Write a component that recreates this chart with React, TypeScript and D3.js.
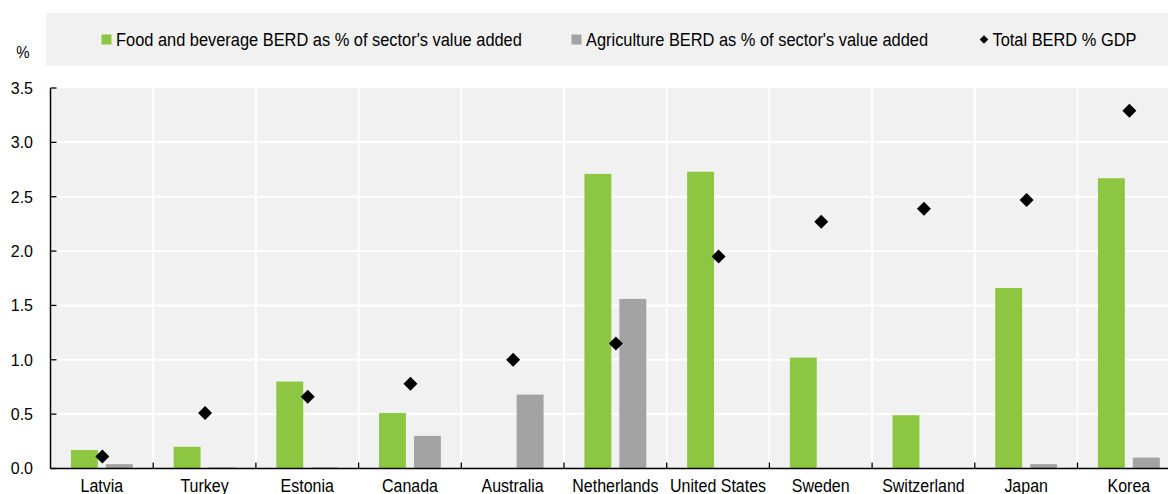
import React from 'react';
import * as d3 from 'd3';

const countries = ["Latvia", "Turkey", "Estonia", "Canada", "Australia", "Netherlands", "United States", "Sweden", "Switzerland", "Japan", "Korea"];
const foodBerd = [0.17, 0.20, 0.80, 0.51, 0, 2.71, 2.73, 1.02, 0.49, 1.66, 2.67];
const agriBerd = [0.04, 0.01, 0.01, 0.30, 0.68, 1.56, 0, 0, 0, 0.04, 0.10];
const totalBerd = [0.11, 0.51, 0.66, 0.78, 1.00, 1.15, 1.95, 2.27, 2.39, 2.47, 3.29];
const yTicks = [0, 0.5, 1, 1.5, 2, 2.5, 3, 3.5];
const seriesNames = ["Food and beverage BERD as % of sector's value added", "Agriculture BERD as % of sector's value added", "Total BERD % GDP"];
const barSeries = ["food", "agri"];

const W = 1168;
const H = 494;
const GREEN = "#8dc641";
const GRAY = "#a3a3a3";
const BG = "#f1f1f1";
const FONT = "'Liberation Sans', Arial, sans-serif";
const SY = 1.16;

export default function App() {
  const left = 50.5;
  const step = 102.7;
  const x0 = d3.scaleBand<string>().domain(countries).range([left, left + step * countries.length]).padding(0);
  const x1 = d3.scaleBand<string>().domain(barSeries).range([0, x0.bandwidth()]).paddingInner(0.23).paddingOuter(0.585);
  const y = d3.scaleLinear().domain([0, 3.5]).range([468.5, 88]);
  const diamond = d3.symbol().type(d3.symbolSquare).size(98)();
  const diamondLegend = d3.symbol().type(d3.symbolSquare).size(36)();
  const y0 = y(0);
  const yTop = y(3.5);

  const stretchedText = (x: number, yy: number, txt: string, anchor: string, key?: string | number, fs = 16) => (
    <text key={key} transform={`translate(${x},${yy}) scale(1,${SY})`} textAnchor={anchor} fontSize={fs} fontFamily={FONT} fill="#000">{txt}</text>
  );

  return (
    <svg width={W} height={H} style={{ position: 'absolute', left: 0, top: 0, background: '#fff' }}>
      {/* legend */}
      <rect x={46} y={13} width={W - 46} height={52.5} fill={BG} />
      <rect x={101.5} y={34.5} width={10} height={10} fill={GREEN} />
      {stretchedText(116, 46, seriesNames[0], 'start', 'l0', 16.4)}
      <rect x={571.5} y={34.5} width={10} height={10} fill={GRAY} />
      {stretchedText(586, 46, seriesNames[1], 'start', 'l1', 16.4)}
      <path d={diamondLegend} transform={`translate(984,39.5) rotate(45)`} fill="#000" />
      {stretchedText(992.5, 46, seriesNames[2], 'start', 'l2', 16.4)}

      {/* unit */}
      <text transform={`translate(23,58) scale(1,${SY})`} textAnchor="middle" fontSize={15} fontFamily={FONT}>%</text>

      {/* plot bg */}
      <rect x={left} y={yTop} width={W - left} height={y0 - yTop} fill={BG} />
      {/* horizontal grid */}
      {yTicks.filter(t => t > 0 && t < 3.5).map(t => (
        <line key={'h' + t} x1={left} x2={W} y1={y(t)} y2={y(t)} stroke="#fff" strokeWidth={2} />
      ))}
      {/* vertical grid */}
      {countries.slice(1).map(c => (
        <line key={'v' + c} x1={x0(c)!} x2={x0(c)!} y1={yTop} y2={y0} stroke="#fff" strokeWidth={2} />
      ))}

      {/* bars */}
      {countries.map((c, i) => (
        <g key={'b' + c} transform={`translate(${x0(c)},0)`}>
          {foodBerd[i] > 0 && <rect x={x1('food')} y={y(foodBerd[i])} width={x1.bandwidth()} height={y0 - y(foodBerd[i])} fill={GREEN} />}
          {agriBerd[i] > 0 && <rect x={x1('agri')} y={y(agriBerd[i])} width={x1.bandwidth()} height={y0 - y(agriBerd[i])} fill={GRAY} />}
        </g>
      ))}

      {/* diamonds */}
      {countries.map((c, i) => (
        <path key={'d' + c} d={diamond} transform={`translate(${x0(c)! + x0.bandwidth() / 2 + 0.5},${y(totalBerd[i])}) rotate(45)`} fill="#000" />
      ))}

      {/* axes */}
      <line x1={left} x2={left} y1={yTop} y2={y0} stroke="#000" strokeWidth={1.5} />
      {yTicks.map(t => (
        <g key={'yt' + t}>
          <line x1={left} x2={left + 6} y1={y(t)} y2={y(t)} stroke="#000" strokeWidth={1.3} />
          <text x={33} y={y(t) + 5.8} textAnchor="end" fontSize={16} fontFamily={FONT}>{d3.format('.1f')(t)}</text>
        </g>
      ))}
      <line x1={left} x2={W} y1={y0} y2={y0} stroke="#000" strokeWidth={1.5} />
      {countries.slice(1).map(c => (
        <line key={'xt' + c} x1={x0(c)!} x2={x0(c)!} y1={y0 - 6} y2={y0} stroke="#000" strokeWidth={1.3} />
      ))}
      {countries.map((c, i) => stretchedText(x0(c)! + x0.bandwidth() / 2, 492, c, 'middle', 'xl' + i))}
    </svg>
  );
}
